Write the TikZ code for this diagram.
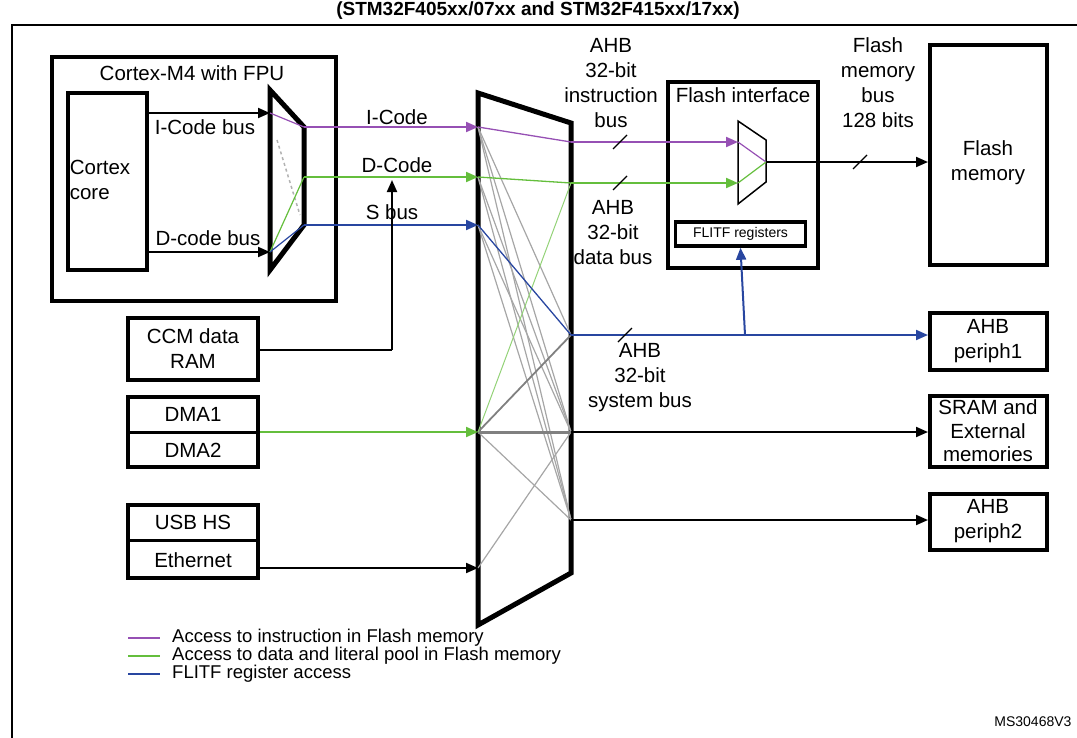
\documentclass[tikz,border=0pt]{standalone}
\usepackage{fontspec}
\setmainfont{Liberation Sans}
\usetikzlibrary{arrows.meta}
\definecolor{pur}{RGB}{150,80,180}
\definecolor{grn}{RGB}{100,190,60}
\definecolor{blu}{RGB}{40,70,160}
\begin{document}
\begin{tikzpicture}[x=1pt,y=-1pt,
 txt/.style={font=\fontsize{20.5}{25}\selectfont,align=center,inner sep=0pt},
 leg/.style={font=\fontsize{18.5}{20}\selectfont,inner sep=0pt,anchor=west},
 box/.style={draw,line width=4pt},
 mux/.style={draw,line width=5pt,line join=miter},
 arr/.style={-{Triangle[length=12pt,width=10pt]},line width=2pt},
 g/.style={gray!70,line width=1.2pt},
 sl/.style={line width=1.2pt}]
\useasboundingbox (0,0) rectangle (1077,737);
\clip (0,0) rectangle (1077,737);
\node[font=\bfseries\fontsize{19}{22}\selectfont,inner sep=0pt] (title) at (538,11) {(STM32F405xx/07xx and STM32F415xx/17xx)};
\draw[line width=1.8pt] (12,25) rectangle (1080,745);
% Cortex
\node[box,minimum width=284,minimum height=244,inner sep=0pt] (cm4) at (194,179) {};
\node[txt] (cm4l) at (192,73) {Cortex-M4 with FPU};
\node[box,minimum width=79,minimum height=177] (core) at (107.5,181.5) {};
\node[txt,align=left] (corel) at (100,180) {Cortex\\core};
\draw[mux] (270,90) -- (304,127) -- (304,225) -- (270,270) -- cycle;
\coordinate (mi1) at (270,113); \coordinate (mi2) at (270,252);
\coordinate (mo1) at (304,127); \coordinate (mo2) at (304,177); \coordinate (mo3) at (304,225);
\draw[arr] (core.east |- mi1) -- (mi1);
\draw[arr] (core.east |- mi2) -- (mi2);
\node[txt] (icb) at (205,127) {I-Code bus};
\node[txt] (dcb) at (208,238) {D-code bus};
\draw[pur,line width=1.2pt] (mi1) -- (mo1);
\draw[gray!60,dashed,line width=1.5pt] (277,140) -- (300,215);
\draw[grn,line width=1.2pt] (mi2) -- (mo2);
\draw[blu,line width=1.2pt] (mi2) -- (mo3);
% big mux
\draw[mux] (478,93) -- (571,123) -- (571,573) -- (478,625) -- cycle;
\coordinate (bi1) at (478,127); \coordinate (bi2) at (478,177); \coordinate (bi3) at (478,225);
\coordinate (bi4) at (478,432); \coordinate (bi5) at (478,568);
\coordinate (bo1) at (571,142); \coordinate (bo2) at (571,183); \coordinate (bo3) at (571,335);
\coordinate (bo4) at (571,432); \coordinate (bo5) at (571,520);
\draw[arr,pur] (mo1) -- (bi1);
\draw[arr,grn] (mo2) -- (bi2);
\draw[arr,blu] (mo3) -- (bi3);
\node[txt] (ic) at (397,117) {I-Code};
\node[txt] (dc) at (397,165) {D-Code};
\node[txt] (sb) at (392,212) {S bus};
% internal mux lines
\foreach \a/\b in {bi1/bo4,bi1/bo5,bi2/bo4,bi2/bo5,bi3/bo4,bi3/bo5,bi4/bo5,bi5/bo4,bi1/bo3}
  \draw[g] (\a) -- (\b);
\draw[gray,line width=1.8pt] (bi4) -- (bo3);
\draw[gray,line width=3pt] (bi4) -- (bo4);
\draw[pur,line width=1.3pt] (bi1) -- (bo1);
\draw[grn,line width=1.3pt] (bi2) -- (bo2);
\draw[grn!70,line width=1pt] (bi4) -- (bo2);
\draw[blu,line width=1.3pt] (bi3) -- (bo3);
% CCM
\node[box,minimum width=130,minimum height=62] (ccm) at (193,349) {};
\node[txt] (ccml) at (193,349) {CCM data\\RAM};
\coordinate (cj) at (392,350);
\draw[line width=1.5pt] (ccm.east |- cj) -- (cj);
\draw[arr] (cj) -- (392,180);
% DMA
\node[box,minimum width=130,minimum height=70] (dma) at (193,432) {};
\draw[line width=3pt] (128,432) -- (258,432);
\node[txt] (d1) at (193,414) {DMA1};
\node[txt] (d2) at (193,450) {DMA2};
\draw[arr,grn] (dma.east |- bi4) -- (bi4);
% USB
\node[box,minimum width=130,minimum height=73] (usb) at (193,541.5) {};
\draw[line width=3pt] (128,540) -- (258,540);
\node[txt] (u1) at (193,522) {USB HS};
\node[txt] (u2) at (193,560) {Ethernet};
\draw[arr] (usb.east |- bi5) -- (bi5);
% Flash interface
\node[box,minimum width=150,minimum height=186] (fi) at (743,175) {};
\node[txt] (fil) at (743,95) {Flash interface};
\draw[line width=1.5pt] (738,121) -- (766,140) -- (766,182) -- (738,204) -- cycle;
\coordinate (fm1) at (738,142); \coordinate (fm2) at (738,183); \coordinate (fmo) at (766,162);
\draw[arr,pur] (bo1) -- (fm1);
\draw[arr,grn] (bo2) -- (fm2);
\draw[pur,line width=1.2pt] (fm1) -- (fmo);
\draw[grn,line width=1.2pt] (fm2) -- (fmo);
\node[box,line width=3.5pt,minimum width=130,minimum height=24,font=\fontsize{14}{16}\selectfont] (flitf) at (740.5,234) {FLITF registers};
% Flash memory
\node[box,minimum width=117,minimum height=220] (fm) at (988.5,155) {};
\node[txt] (fml) at (988,163) {Flash\\memory};
\draw[arr] (fmo) -- (fm.west |- fmo);
% outputs
\node[box,minimum width=117,minimum height=57] (p1) at (988.5,341.5) {};
\node[txt] (p1l) at (988,341) {AHB\\periph1};
\node[box,minimum width=117,minimum height=71] (sr) at (988.5,431.5) {};
\node[txt,font=\fontsize{20.5}{23.5}\selectfont] (srl) at (988,431) {SRAM and\\External\\memories};
\node[box,minimum width=117,minimum height=56] (p2) at (988.5,522) {};
\node[txt] (p2l) at (988,521) {AHB\\periph2};
\draw[arr,blu] (bo3) -- (p1.west |- bo3);
\draw[arr,blu] (745,335) -- (flitf.south);
\draw[arr] (bo4) -- (sr.west |- bo4);
\draw[arr] (bo5) -- (p2.west |- bo5);
% slashes
\foreach \x/\y in {620/142,620/183,625/335,860/162}
  \draw[sl] (\x-7,\y+7) -- (\x+7,\y-7);
% labels
\node[txt] (l1) at (611,83) {AHB\\32-bit\\instruction\\bus};
\node[txt] (l2) at (613,233) {AHB\\32-bit\\data bus};
\node[txt] (l3) at (640,378) {AHB\\32-bit\\system bus};
\node[txt] (l4) at (878,83) {Flash\\memory\\bus\\128 bits};
% legend
\foreach \c/\y/\t in {pur/638/Access to instruction in Flash memory,grn/656/Access to data and literal pool in Flash memory,blu/674/FLITF register access}{
  \draw[\c,line width=1.5pt] (128,\y) -- (160,\y);
  \node[leg] at (172,\y) {\t};}
\node[font=\fontsize{14}{16}\selectfont,anchor=east] (ms) at (1075,722) {MS30468V3};
\end{tikzpicture}
\end{document}
